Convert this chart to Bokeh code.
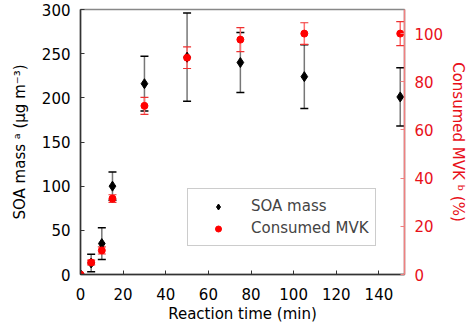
from bokeh.plotting import figure
from bokeh.models import (LinearAxis, Range1d, FixedTicker, Whisker, TeeHead,
                          ColumnDataSource, Legend, LegendItem)
from bokeh.embed import file_html
from bokeh.resources import INLINE

# data
time_min = [0, 5, 10, 15, 30, 50, 75, 105, 150]
soa_mass = [0, 13, 35, 100, 216, 246, 240, 224, 201]
soa_err = [0, 10, 18, 16, 31, 50, 34, 36, 33]
mvk_consumed = [0, 5, 10, 31.5, 70, 90, 97.5, 100, 100]
mvk_err = [0, 1, 1.5, 1.6, 3.5, 4.5, 5, 4.5, 5]

x_ticks = [0, 20, 40, 60, 80, 100, 120, 140]
left_ticks = [0, 50, 100, 150, 200, 250, 300]
right_ticks = [0, 20, 40, 60, 80, 100]

FONT = "DejaVu Sans"
FS = "15px"
RED = "#e8101a"

p = figure(width=470, height=327, output_backend="svg", toolbar_location=None,
           x_range=Range1d(0, 152), y_range=Range1d(0, 300),
           min_border_left=80, min_border_right=63, min_border_top=9,
           min_border_bottom=53)
p.extra_y_ranges = {"right": Range1d(0, 110)}
p.grid.visible = False
p.outline_line_color = "#888888"
p.outline_line_width = 1.5
p.background_fill_color = "white"
p.border_fill_color = "white"

# axes styling
for ax in [p.xaxis[0], p.yaxis[0]]:
    ax.major_tick_in = 4
    ax.major_tick_out = 0
    ax.minor_tick_line_color = None
    ax.major_label_text_font = FONT
    ax.major_label_text_font_size = FS
    ax.major_label_text_color = "black"
    ax.axis_label_text_font = FONT
    ax.axis_label_text_font_size = FS
    ax.axis_label_text_font_style = "normal"
    ax.axis_label_text_color = "black"
    ax.axis_line_color = "#333333"
    ax.axis_line_width = 1.5
    ax.major_tick_line_color = "#333333"
    ax.major_label_standoff = 10

p.xaxis[0].ticker = FixedTicker(ticks=x_ticks)
p.yaxis[0].ticker = FixedTicker(ticks=left_ticks)
p.xaxis[0].axis_label = "Reaction time (min)"
p.yaxis[0].axis_label = "SOA mass \u1d43 (\u03bcg m\u207b\u00b3)"
p.xaxis[0].major_label_standoff = 13
p.xaxis[0].axis_label_standoff = 2
p.yaxis[0].axis_label_standoff = 10

rax = LinearAxis(y_range_name="right", ticker=FixedTicker(ticks=right_ticks),
                 axis_label="Consumed MVK \u1d47 (%)")
rax.major_tick_in = 4
rax.major_tick_out = 0
rax.minor_tick_line_color = None
rax.major_label_text_font = FONT
rax.major_label_text_font_size = FS
rax.major_label_text_color = RED
rax.major_label_standoff = 10
rax.axis_label_text_font = FONT
rax.axis_label_text_font_size = FS
rax.axis_label_text_font_style = "normal"
rax.axis_label_text_color = RED
rax.axis_line_color = "#f08080"
rax.axis_line_width = 1.5
rax.major_tick_line_color = "#f08080"
rax.axis_label_standoff = 3
p.add_layout(rax, "right")

soa_src = ColumnDataSource(dict(
    x=time_min, y=soa_mass,
    lo=[v - e for v, e in zip(soa_mass, soa_err)],
    hi=[v + e for v, e in zip(soa_mass, soa_err)]))
mvk_src = ColumnDataSource(dict(
    x=time_min, y=mvk_consumed,
    lo=[v - e for v, e in zip(mvk_consumed, mvk_err)],
    hi=[v + e for v, e in zip(mvk_consumed, mvk_err)]))

w1 = Whisker(source=soa_src, base="x", lower="lo", upper="hi",
             line_color="#777777", line_width=1.5,
             upper_head=TeeHead(size=8, line_color="black", line_width=1.5),
             lower_head=TeeHead(size=8, line_color="black", line_width=1.5))
p.add_layout(w1)
w2 = Whisker(source=mvk_src, base="x", lower="lo", upper="hi",
             y_range_name="right",
             line_color="#ff7070", line_width=1.5,
             upper_head=TeeHead(size=8, line_color="#ee3030", line_width=1.2),
             lower_head=TeeHead(size=8, line_color="#ee3030", line_width=1.2))
p.add_layout(w2)

r1 = p.scatter("x", "y", source=soa_src, marker="diamond", size=10,
               color="black")
r2 = p.scatter("x", "y", source=mvk_src, marker="circle", size=7,
               color="#ff0000", y_range_name="right")

# legend-only proxies (placed outside the visible range)
lr1 = p.scatter([-100], [-100], marker="diamond", size=8, color="black")
lr2 = p.scatter([-100], [-100], marker="circle", size=6, color="#ff0000")

legend = Legend(items=[LegendItem(label="SOA mass", renderers=[lr1]),
                       LegendItem(label="Consumed MVK", renderers=[lr2])],
                location=(107, 28))
legend.label_text_font = FONT
legend.label_text_font_size = FS
legend.border_line_color = "#999999"
legend.border_line_width = 1
legend.padding = 6
legend.spacing = 0
legend.margin = 0
legend.glyph_width = 48
legend.label_standoff = 9
legend.label_height = 22
legend.glyph_height = 15
p.add_layout(legend, "center")

open("out.html", "w").write(file_html(p, INLINE))
